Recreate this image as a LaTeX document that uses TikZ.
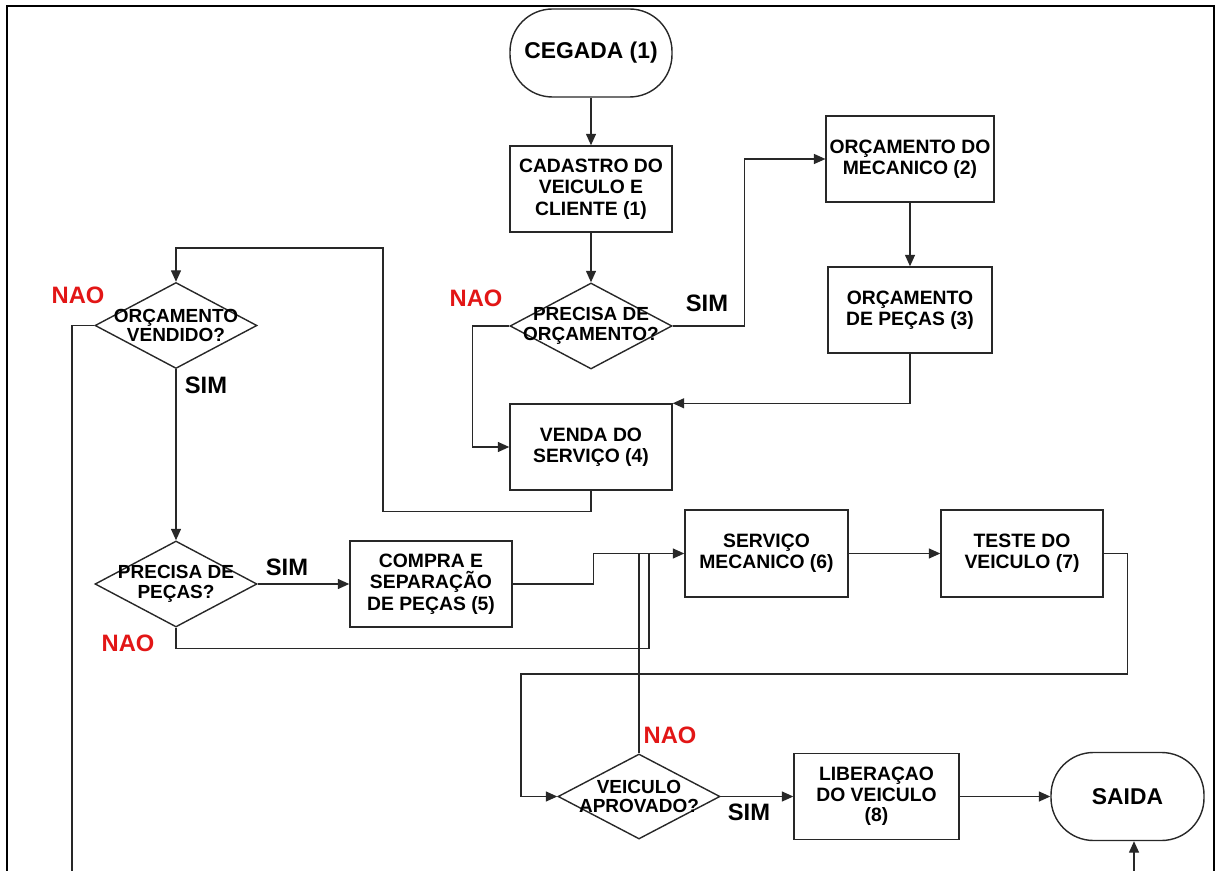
\documentclass[tikz,border=0pt]{standalone}
\usepackage{fontspec}
\setmainfont{Liberation Sans}
\usetikzlibrary{shapes.geometric,arrows.meta}
\definecolor{naored}{RGB}{226,22,22}
\definecolor{linegray}{RGB}{40,40,40}
\tikzset{
  procbox/.style={draw=linegray,line width=.8pt,align=center,inner sep=2pt,minimum width=3.24cm,minimum height=1.72cm,font=\fontsize{11}{12.2}\selectfont\bfseries},
  termbox/.style={draw=linegray,line width=.8pt,rounded corners=.85cm,align=center,inner sep=2pt,minimum width=3.24cm,minimum height=1.76cm,font=\fontsize{13}{15}\selectfont\bfseries},
  decbox/.style={diamond,draw=linegray,line width=.8pt,inner sep=0pt,minimum width=3.24cm,minimum height=1.72cm},
  dectext/.style={align=center,inner sep=0pt,font=\fontsize{10.8}{11.2}\selectfont\bfseries},
  flowarr/.style={-{Triangle[length=2.3mm,width=2mm]},line width=.8pt,draw=linegray},
  flowline/.style={line width=.8pt,draw=linegray},
  simlabel/.style={font=\fontsize{13.5}{16}\selectfont\bfseries},
  naolabel/.style={font=\fontsize{13.5}{16}\selectfont\bfseries,text=naored}
}

\begin{document}
\begin{tikzpicture}
  \useasboundingbox (0,0) rectangle (24.4,-17.42);
  \clip (0,0) rectangle (24.4,-17.42);
  \draw[line width=1.6pt] (0.14,-0.12) rectangle (24.28,-18);

  % upper column
  \node[termbox] (cegada) at (11.82,-1.06) {CEGADA (1)};
  \node[procbox] (cadastro) at (11.82,-3.78) {CADASTRO DO\\VEICULO E\\CLIENTE (1)};
  \node[decbox,label={[dectext]center:PRECISA DE\\ORÇAMENTO?}] (precorc) at (11.82,-6.52) {};
  \node[procbox] (venda) at (11.82,-8.94) {VENDA DO\\SERVIÇO (4)};
  \node[procbox,minimum width=3.28cm] (orcmec) at (18.2,-3.18) {ORÇAMENTO DO\\MECANICO (2)};
  \node[procbox,minimum width=3.28cm] (orcpecas) at (18.2,-6.2) {ORÇAMENTO\\DE PEÇAS (3)};

  \draw[flowarr] (cegada) -- (cadastro);
  \draw[flowarr] (cadastro) -- (precorc);
  \draw[flowarr] (precorc.east) -- ++(1.44,0) |- (orcmec.west);
  \draw[flowarr] (precorc.west) -- ++(-0.74,0) |- (venda.west);
  \draw[flowarr] (orcmec) -- (orcpecas);
  \draw[flowarr] (orcpecas.south) |- (venda.north east);
  \node[simlabel] (simorc) at (14.14,-6.06) {SIM};
  \node[naolabel] (naoorc) at (9.52,-5.96) {NAO};

  % left column
  \node[decbox,label={[dectext]center:ORÇAMENTO\\VENDIDO?}] (orcvend) at (3.52,-6.51) {};
  \node[decbox,label={[dectext]center:PRECISA DE\\PEÇAS?}] (precpecas) at (3.52,-11.68) {};
  \node[procbox] (compra) at (8.62,-11.68) {COMPRA E\\SEPARAÇÃO\\DE PEÇAS (5)};
  \coordinate (retorno) at (7.66,-4.96);
  \coordinate (fimnao) at (1.44,-17.6);

  \draw[flowarr] (venda.south) -- ++(0,-0.42) -| (retorno) -| (orcvend.north);
  \draw[flowline] (orcvend.west) -| (fimnao);
  \draw[flowarr] (orcvend) -- (precpecas);
  \draw[flowarr] (precpecas) -- (compra);
  \node[naolabel] (naovend) at (1.56,-5.9) {NAO};
  \node[simlabel] (simvend) at (4.12,-7.7) {SIM};
  \node[simlabel] (simpecas) at (5.74,-11.34) {SIM};
  \node[naolabel] (naopecas) at (2.56,-12.86) {NAO};

  % service line
  \node[procbox,minimum width=3.26cm,minimum height=1.74cm] (servmec) at (15.33,-11.07) {SERVIÇO\\MECANICO (6)};
  \node[procbox,minimum height=1.74cm] (teste) at (20.44,-11.07) {TESTE DO\\VEICULO (7)};
  \coordinate (juntaA) at (12.98,-11.07);
  \coordinate (juntaB) at (12.78,-11.07);

  \draw[flowarr] (compra.east) -- ++(1.62,0) |- (servmec.west);
  \draw[flowline] (precpecas.south) -- ++(0,-0.42) -| (juntaA);
  \draw[flowarr] (servmec) -- (teste);

  % bottom line
  \node[decbox,minimum height=1.7cm,label={[dectext]center:VEICULO\\APROVADO?}] (aprov) at (12.78,-15.93) {};
  \node[procbox,minimum width=3.3cm,font=\fontsize{11}{11.8}\selectfont\bfseries] (liberacao) at (17.53,-15.93) {LIBERAÇAO\\DO VEICULO\\(8)};
  \node[termbox,minimum width=3.06cm] (saida) at (22.55,-15.93) {SAIDA};
  \coordinate (teste2) at (10.42,-13.48);
  \coordinate (entsaida) at (22.68,-17.6);

  \draw[flowarr] (teste.east) -- ++(0.48,0) |- (teste2) |- (aprov.west);
  \draw[flowline] (aprov.north) -- (juntaB);
  \draw[flowarr] (aprov) -- (liberacao);
  \draw[flowarr] (liberacao) -- (saida);
  \draw[flowarr] (entsaida) -- (entsaida |- saida.south);
  \node[naolabel] (naoaprov) at (13.4,-14.7) {NAO};
  \node[simlabel] (simaprov) at (14.98,-16.24) {SIM};
\end{tikzpicture}
\end{document}
